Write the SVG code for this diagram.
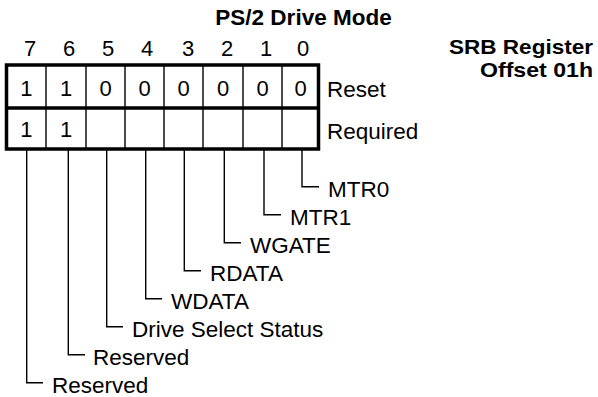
<svg xmlns="http://www.w3.org/2000/svg" width="598" height="397" viewBox="0 0 598 397">
<style>
text{font-family:"Liberation Sans",Arial,sans-serif;fill:#000}
.t{font-size:22.5px}
.c{font-size:22px;text-anchor:middle}
.b{font-size:22.5px;font-weight:bold}
.thick{fill:none;stroke:#000;stroke-width:3.5}
.thin{fill:none;stroke:#000;stroke-width:1.4}
.lead{fill:none;stroke:#000;stroke-width:1.4}
</style>
<rect width="598" height="397" fill="#fff"/>
<g id="title">
<text class="b" x="303.5" y="25" text-anchor="middle">PS/2 Drive Mode</text>
</g>
<g id="register-name">
<text class="b" x="449" y="54" style="font-size:20.5px" textLength="144" lengthAdjust="spacingAndGlyphs">SRB Register</text>
<text class="b" x="480" y="77" style="font-size:20.5px" textLength="113" lengthAdjust="spacingAndGlyphs">Offset 01h</text>
</g>
<g id="bit-numbers">
<text class="c" x="30" y="56">7</text>
<text class="c" x="69" y="56">6</text>
<text class="c" x="108" y="56">5</text>
<text class="c" x="147" y="56">4</text>
<text class="c" x="188" y="56">3</text>
<text class="c" x="227" y="56">2</text>
<text class="c" x="266" y="56">1</text>
<text class="c" x="303" y="56">0</text>
</g>
<g id="register-table">
<path class="thin" d="M46,65V149M86,65V149M125,65V149M164,65V149M203,65V149M243,65V149M282,65V149"/>
<rect class="thick" x="6.5" y="65" width="312" height="84"/>
<line class="thick" x1="6.5" y1="108" x2="318.5" y2="108"/>
<text class="c" x="26.3" y="96">1</text>
<text class="c" x="66" y="96">1</text>
<text class="c" x="105.5" y="96">0</text>
<text class="c" x="144.5" y="96">0</text>
<text class="c" x="183.5" y="96">0</text>
<text class="c" x="223" y="96">0</text>
<text class="c" x="262.5" y="96">0</text>
<text class="c" x="300.5" y="96">0</text>
<text class="c" x="26.3" y="137">1</text>
<text class="c" x="66" y="137">1</text>
</g>
<g id="row-labels">
<text class="t" x="327" y="97">Reset</text>
<text class="t" x="327" y="139">Required</text>
</g>
<g id="connectors">
<path class="lead" d="M302,150V186.7H319"/>
<path class="lead" d="M264,150V214.7H281"/>
<path class="lead" d="M224.3,150V242.7H241"/>
<path class="lead" d="M184.3,150V270.7H201"/>
<path class="lead" d="M145.7,150V298.7H162"/>
<path class="lead" d="M106.7,150V326.7H123"/>
<path class="lead" d="M68.3,150V354.7H85"/>
<path class="lead" d="M26.7,150V382.7H43"/>
</g>
<g id="label-mtr0"><text class="t" x="328" y="197">MTR0</text></g>
<g id="label-mtr1"><text class="t" x="290" y="225">MTR1</text></g>
<g id="label-wgate"><text class="t" x="250" y="253">WGATE</text></g>
<g id="label-rdata"><text class="t" x="210" y="281">RDATA</text></g>
<g id="label-wdata"><text class="t" x="171" y="309">WDATA</text></g>
<g id="label-drive-select"><text class="t" x="132" y="337">Drive Select Status</text></g>
<g id="label-reserved6"><text class="t" x="93" y="365">Reserved</text></g>
<g id="label-reserved7"><text class="t" x="52" y="393">Reserved</text></g>
</svg>
